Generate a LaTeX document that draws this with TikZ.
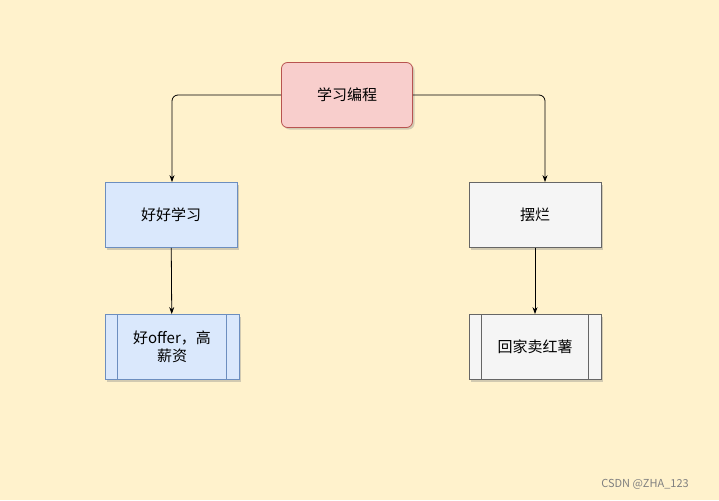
\documentclass[tikz,border=0pt]{standalone}
\usepackage{fontspec}
\setmainfont{Noto Sans CJK SC}
\usetikzlibrary{shadows,arrows.meta}
\definecolor{bg}{HTML}{FFF2CC}
\definecolor{rf}{HTML}{F8CECC}\definecolor{rd}{HTML}{B85450}
\definecolor{bf}{HTML}{DAE8FC}\definecolor{bd}{HTML}{6C8EBF}
\definecolor{gf}{HTML}{F5F5F5}\definecolor{gd}{HTML}{666666}
\tikzset{x=1pt,y=-1pt,
 box/.style={draw,line width=0.8pt,minimum width=132pt,minimum height=65pt,align=center,font=\fontsize{15}{18}\selectfont,drop shadow={shadow xshift=2pt,shadow yshift=-2pt,opacity=0.35}},
 conn/.style={draw,line width=0.8pt,-{Stealth[length=7pt,width=5pt]},rounded corners=6pt}}
\begin{document}
\begin{tikzpicture}
\fill[bg] (0,0) rectangle (719,500);
\useasboundingbox (0,0) rectangle (719,500);
\node[box,fill=rf,draw=rd,rounded corners=6pt,minimum width=131pt] (a) at (347,95) {学习编程};
\node[box,fill=bf,draw=bd] (b) at (171,215) {好好学习};
\node[box,fill=gf,draw=gd] (c) at (535,215) {摆烂};
\node[box,fill=bf,draw=bd,minimum width=134pt] (d) at (172,347) {好offer，高\\薪资};
\node[box,fill=gf,draw=gd] (e) at (535,347) {回家卖红薯};
\draw[bd,line width=0.8pt] ([xshift=13pt]d.north west) -- ([xshift=13pt]d.south west) ([xshift=-13pt]d.north east) -- ([xshift=-13pt]d.south east);
\draw[gd,line width=0.8pt] ([xshift=13pt]e.north west) -- ([xshift=13pt]e.south west) ([xshift=-13pt]e.north east) -- ([xshift=-13pt]e.south east);
\draw[conn] (a.west) -| ([xshift=1pt]b.north);
\draw[conn] (a.east) -| ([xshift=10pt]c.north);
\draw[conn] (b) -- (d);
\draw[conn] (c) -- (e);
\node[text=gray,font=\fontsize{11}{12}\selectfont] (w) at (645,484) {CSDN @ZHA\_123};
\end{tikzpicture}
\end{document}
